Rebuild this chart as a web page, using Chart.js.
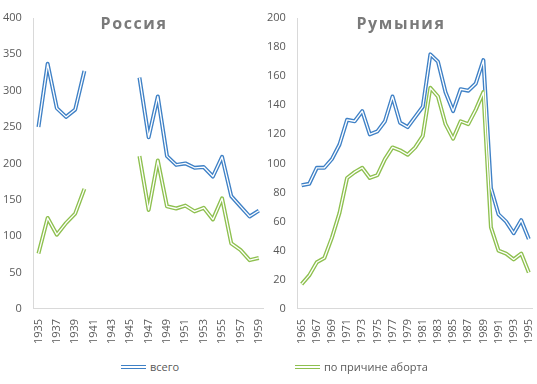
<!DOCTYPE html>
<html>
<head>
<meta charset="utf-8">
<script src="https://cdn.jsdelivr.net/npm/chart.js@4.4.1/dist/chart.umd.min.js"></script>
<style>
  body { margin: 0; background: #fff; font-family: 'Open Sans', sans-serif; overflow: hidden; }
  .wrap { position: relative; width: 537px; height: 384px; overflow: hidden; }
  .box { position: absolute; top: 0; height: 348px; }
  .title {
    position: absolute; top: 12px; font: bold 16px 'Open Sans', sans-serif;
    color: #7a7a7a; letter-spacing: 1.6px; text-align: center;
  }
  .legend { position: absolute; top: 359px; font-size: 11px; color: #595959; display: flex; align-items: center; }
  .sw { display: inline-block; width: 25px; height: 1px; border-top: 1px solid; border-bottom: 1px solid; margin-right: 4px; padding-top: 1px; }
</style>
</head>
<body>
<div class="wrap">
  <div class="box" style="left:-1px;width:275px"><canvas id="ruChart"></canvas></div>
  <div class="box" style="left:263px;width:281px"><canvas id="roChart"></canvas></div>
  <div class="title" style="left:44px;width:180px">Россия</div>
  <div class="title" style="left:311px;width:180px">Румыния</div>
  <div class="legend" style="left:121px"><span class="sw" style="border-color:#3f81c6"></span>всего</div>
  <div class="legend" style="left:295px"><span class="sw" style="border-color:#8ec04f"></span>по причине аборта</div>
</div>
<script>
// Россия, 1935–1959 (1941–1945 нет данных)
const ruYears = [];
for (let y = 1935; y <= 1959; y++) ruYears.push(String(y));
const ruTotal = [250, 337, 276, 264, 274, 327, null, null, null, null, null,
    318, 236, 292, 210, 198, 200, 194, 195, 182, 209, 155, 141, 127, 135];
const ruAbort = [76, 125, 102, 118, 131, 165, null, null, null, null, null,
    210, 136, 204, 141, 138, 142, 134, 139, 123, 152, 90, 81, 67, 70];

// Румыния, 1965–1995
const roYears = [];
for (let y = 1965; y <= 1995; y++) roYears.push(String(y));
const roTotal = [85, 86, 97, 97, 103, 113, 130, 129, 136, 120, 122, 129, 146, 128, 125, 132, 139,
    175, 170, 149, 136, 151, 150, 155, 171, 83, 65, 60, 52, 61, 48];
const roAbort = [17, 23, 32, 35, 49, 66, 90, 94, 97, 90, 92, 103, 111, 109, 106, 111, 119,
    152, 146, 127, 117, 129, 127, 137, 149, 56, 40, 38, 34, 38, 25];

const BLUE = '#3f81c6';
const GREEN = '#8ec04f';

Chart.defaults.font.family = "'Open Sans', sans-serif";
Chart.defaults.color = '#595959';

// двойная линия: цветная толстая + белая тонкая сверху
function doubleLine(data, color) {
    const base = { data: data, pointRadius: 0, tension: 0, spanGaps: false, borderJoinStyle: 'round' };
    return [
        { ...base, borderColor: '#ffffff', borderWidth: 1.3, order: 0 },
        { ...base, borderColor: color, borderWidth: 4, order: 1 }
    ];
}

function makeChart(id, labels, total, abort, yMax, step, pad) {
    const ctx = document.getElementById(id).getContext('2d');
    return new Chart(ctx, {
        type: 'line',
        data: {
            labels: labels,
            datasets: [...doubleLine(abort, GREEN), ...doubleLine(total, BLUE)]
        },
        options: {
            responsive: true,
            maintainAspectRatio: false,
            animation: false,
            layout: { padding: pad },
            plugins: { legend: { display: false }, tooltip: { enabled: false } },
            scales: {
                x: {
                    offset: true,
                    grid: { display: false },
                    border: { color: '#d9d9d9' },
                    ticks: {
                        autoSkip: false, minRotation: 90, maxRotation: 90,
                        font: { size: 11 }, padding: 2,
                        callback: (v, i) => (i % 2 === 0 ? labels[i] : '')
                    }
                },
                y: {
                    min: 0, max: yMax,
                    grid: { display: false },
                    border: { color: '#d9d9d9' },
                    ticks: { stepSize: step, font: { size: 11 }, padding: 4 }
                }
            }
        }
    });
}

makeChart('ruChart', ruYears, ruTotal, ruAbort, 400, 50, { left: 0, right: 0, top: 18, bottom: 2 });
makeChart('roChart', roYears, roTotal, roAbort, 200, 20, { left: 0, right: 0, top: 18, bottom: 2 });
</script>
</body>
</html>
